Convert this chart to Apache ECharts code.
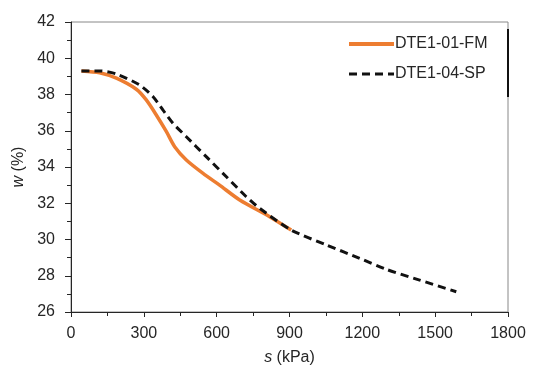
<!DOCTYPE html>
<html><head><meta charset="utf-8">
<script src="https://cdn.jsdelivr.net/npm/echarts@6/dist/echarts.min.js"></script>
<style>html,body{margin:0;padding:0;background:#fff}#c{width:534px;height:374px}</style>
</head><body><div id="c"></div>
<script>
const xTicks = [0, 300, 600, 900, 1200, 1500, 1800];
const yTicks = [26, 28, 30, 32, 34, 36, 38, 40, 42];
const fmS = [43, 118, 187, 269, 310, 350, 393, 427, 475, 544, 612, 695, 818, 907];
const fmW = [39.3, 39.2, 38.9, 38.29, 37.7, 36.9, 35.95, 35.12, 34.39, 33.65, 33.0, 32.18, 31.26, 30.52];
const spS = [43, 118, 187, 283, 338, 379, 420, 475, 557, 640, 722, 777, 907, 1052, 1189, 1299, 1436, 1587];
const spW = [39.3, 39.3, 39.13, 38.52, 37.88, 37.14, 36.41, 35.67, 34.57, 33.46, 32.36, 31.72, 30.52, 29.70, 28.96, 28.35, 27.76, 27.12];
const names = ['DTE1-01-FM', 'DTE1-04-SP'];

const font = 'Liberation Sans, Arial, sans-serif';
const col = '#262626';
const chart = echarts.init(document.getElementById('c'));
chart.setOption({
  animation: false,
  grid: { left: 71, top: 22, right: 26, bottom: 62, show: true, borderColor: '#888', borderWidth: 1 },
  xAxis: {
    type: 'value', min: xTicks[0], max: xTicks[xTicks.length - 1], interval: 300,
    name: '{i|s} (kPa)', nameLocation: 'middle', nameGap: 38,
    nameTextStyle: { fontFamily: font, fontSize: 16, color: col, rich: { i: { fontStyle: 'italic', fontFamily: font, fontSize: 16, color: col } } },
    axisLine: { lineStyle: { color: col, width: 1 } },
    axisTick: { show: true, inside: false, length: 5, lineStyle: { color: col } },
    minorTick: { show: true, splitNumber: 2, length: 4, lineStyle: { color: col } },
    axisLabel: { fontFamily: font, fontSize: 16, color: col, margin: 14, formatter: v => String(v) },
    splitLine: { show: false }
  },
  yAxis: {
    type: 'value', min: yTicks[0], max: yTicks[yTicks.length - 1], interval: 2,
    name: '{i|w} (%)', nameLocation: 'middle', nameGap: 41, nameRotate: 90,
    nameTextStyle: { fontFamily: font, fontSize: 16, color: col, rich: { i: { fontStyle: 'italic', fontFamily: font, fontSize: 16, color: col } } },
    axisLine: { show: true, lineStyle: { color: col, width: 1 } },
    axisTick: { show: true, inside: false, length: 6, lineStyle: { color: col } },
    minorTick: { show: true, splitNumber: 2, length: 4, lineStyle: { color: col } },
    axisLabel: { fontFamily: font, fontSize: 16, color: col, margin: 16 },
    splitLine: { show: false }
  },
  legend: {
    orient: 'vertical', left: 342, top: 31, itemWidth: 45, itemHeight: 14, itemGap: 14,
    itemStyle: { opacity: 0 },
    textStyle: { fontFamily: font, fontSize: 16, color: col, padding: [0, 0, 0, -4] },
    data: [
      { name: names[0], lineStyle: { width: 4 } },
      { name: names[1], lineStyle: { width: 3 } }
    ]
  },
  graphic: [{
    type: 'line', shape: { x1: 508, y1: 29, x2: 508, y2: 97 },
    style: { stroke: '#111', lineWidth: 2 }, z: 100
  }],
  series: [
    { name: names[0], type: 'line', data: fmS.map((s, i) => [s, fmW[i]]), smooth: 0.25,
      symbol: 'none', lineStyle: { color: '#ED7D31', width: 3.5 }, itemStyle: { color: '#ED7D31' } },
    { name: names[1], type: 'line', data: spS.map((s, i) => [s, spW[i]]), smooth: 0.25,
      symbol: 'none', lineStyle: { color: '#111', width: 3, type: [8, 5] }, itemStyle: { color: '#111' }, z: 3 }
  ]
});
</script></body></html>
